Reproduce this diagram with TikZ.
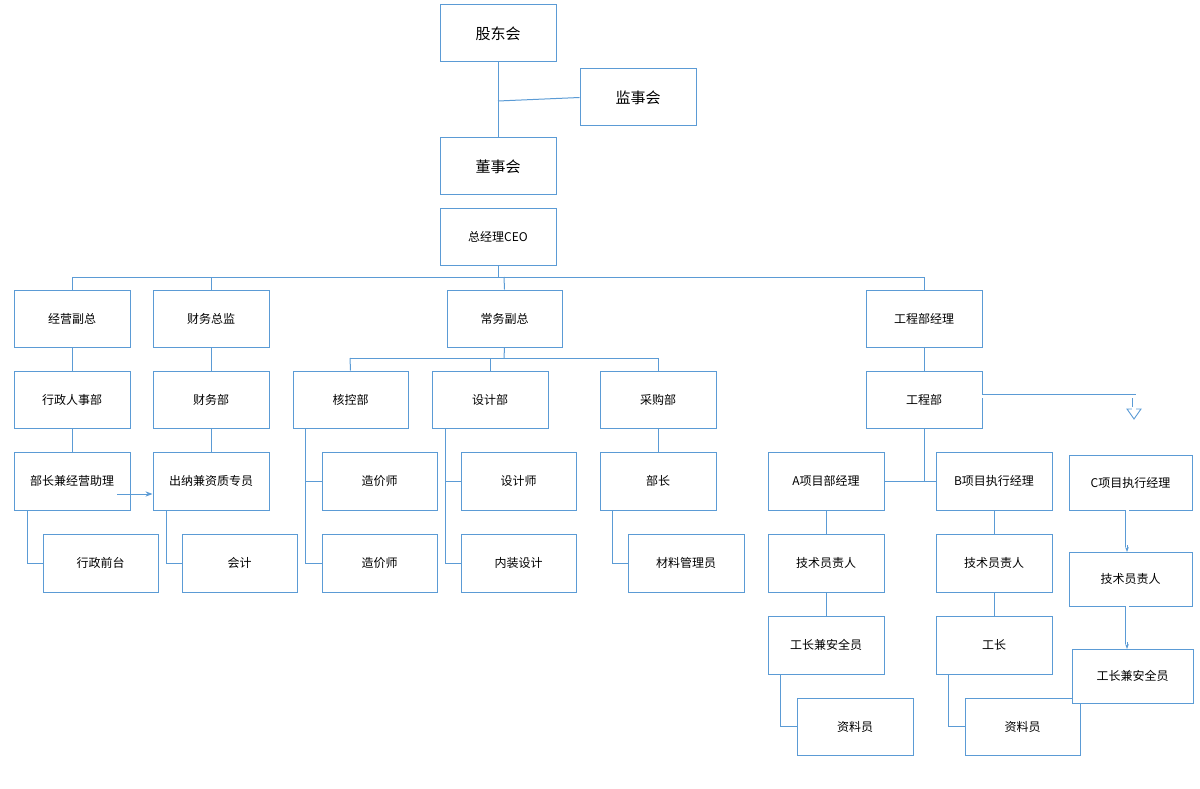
\documentclass[tikz,border=0pt]{standalone}
\usepackage{fontspec}
\setmainfont{Noto Sans CJK SC}
\usetikzlibrary{arrows.meta}
\definecolor{ln}{RGB}{91,155,213}
\begin{document}
\begin{tikzpicture}[x=1pt,y=-1pt,
 bx/.style={draw=ln,line width=1pt,fill=white,inner sep=0pt,font=\fontsize{12}{14}\selectfont},
 big/.style={font=\fontsize{15}{17}\selectfont},
 cn/.style={draw=ln,line width=1pt},
 dbl/.style={draw=ln,double=white,double distance=3pt,line width=0.9pt}]
\useasboundingbox (0,0) rectangle (1200,789);
\newcommand\bx[6][]{\node[bx,#1,minimum width=#4-#2,minimum height=#5-#3] (#6) at ({(#2+#4)/2},{(#3+#5)/2}) {};}
\def\B#1#2#3#4#5#6{\node[bx,minimum width=#4-#2 pt,minimum height=#5-#3 pt] (#1) at ({(#2+#4)/2},{(#3+#5)/2}) {#6};}
\B{gd}{440}{5}{556}{62}{\fontsize{15}{17}\selectfont 股东会}
\B{js}{580}{69}{696}{126}{\fontsize{15}{17}\selectfont 监事会}
\B{ds}{440}{138}{556}{195}{\fontsize{15}{17}\selectfont 董事会}
\B{ceo}{440}{208}{556}{265}{总经理CEO}
\B{jy}{14}{290}{130}{347}{经营副总}
\B{cw}{153}{290}{269}{347}{财务总监}
\B{cwf}{447}{290}{562}{347}{常务副总}
\B{gcj}{866}{290}{982}{347}{工程部经理}
\B{xz}{14}{371}{130}{428}{行政人事部}
\B{cwb}{153}{371}{269}{428}{财务部}
\B{hk}{293}{371}{408}{428}{核控部}
\B{sj}{432}{371}{548}{428}{设计部}
\B{cg}{600}{371}{716}{428}{采购部}
\B{gcb}{866}{371}{982}{428}{工程部}
\B{bz}{14}{452}{130}{510}{部长兼经营助理}
\B{cn1}{153}{452}{269}{510}{出纳兼资质专员}
\B{zj1}{322}{452}{437}{510}{造价师}
\B{sjs}{461}{452}{576}{510}{设计师}
\B{bzc}{600}{452}{716}{510}{部长}
\B{xa}{768}{452}{884}{510}{A项目部经理}
\B{xb}{936}{452}{1052}{510}{B项目执行经理}
\B{xc}{1069}{455}{1192}{510}{C项目执行经理}
\B{qt}{43}{534}{158}{592}{行政前台}
\B{kj}{182}{534}{297}{592}{会计}
\B{zj2}{322}{534}{437}{592}{造价师}
\B{nz}{461}{534}{576}{592}{内装设计}
\B{cl}{628}{534}{744}{592}{材料管理员}
\B{ja}{768}{534}{884}{592}{技术员责人}
\B{jb}{936}{534}{1052}{592}{技术员责人}
\B{jc}{1069}{552}{1192}{606}{技术员责人}
\B{ga}{768}{616}{884}{674}{工长兼安全员}
\B{gb}{936}{616}{1052}{674}{工长}
\B{za}{797}{698}{913}{755}{资料员}
\B{zb}{965}{698}{1080}{755}{资料员}
\B{gc}{1072}{649}{1193}{703}{工长兼安全员}
\begin{scope}[on background layer/.style={}]
\end{scope}
% connectors
\draw[cn] (gd.south) -- (ds.north);
\draw[cn] (498,101) -- (js.west);
\draw[cn] (ceo.south) -- (498,277);
\draw[cn] (72,277) -- (925,277);
\draw[cn] (72,277) -- (jy.north);
\draw[cn] (211,277) -- (cw.north);
\draw[cn] (504,277) -- (cwf.north);
\draw[cn] (924,277) -- (gcj.north);
\draw[cn] (jy) -- (xz); \draw[cn] (xz) -- (bz);
\draw[cn] (cw) -- (cwb); \draw[cn] (cwb) -- (cn1);
\draw[cn] (cwf.south) -- (504,358);
\draw[cn] (350,358) -- (658,358);
\draw[cn] (350,358) -- (hk.north);
\draw[cn] (490,358) -- (sj.north);
\draw[cn] (658,358) -- (cg.north);
\draw[cn] (gcj) -- (gcb);
\draw[cn] (27,510) |- (qt.west);
\draw[cn] (166,510) |- (kj.west);
\draw[cn] (305,428) |- (zj2.west);
\draw[cn] (305,481) -- (zj1.west);
\draw[cn] (445,428) |- (nz.west);
\draw[cn] (445,481) -- (sjs.west);
\draw[cn] (cg) -- (bzc);
\draw[cn] (612,510) |- (cl.west);
\draw[cn] (gcb.south) -- (924,481);
\draw[cn] (xa.east) -- (xb.west);
\draw[cn] (xa) -- (ja); \draw[cn] (ja) -- (ga);
\draw[cn] (xb) -- (jb); \draw[cn] (jb) -- (gb);
\draw[cn] (780,674) |- (za.west);
\draw[cn] (948,674) |- (zb.west);
\node[bx,minimum width=121pt,minimum height=54pt] at (gc) {工长兼安全员};
\draw[cn,-{Stealth[length=7pt]}] (117,494) -- (cn1.west|-0,494);
\draw[dbl] (982,396) -- (1134,396) -- (1134,410);
\draw[ln,line width=0.9pt,fill=white] (1127,409) -- (1141,409) -- (1134,419) -- cycle;
\fill[white] (1132.3,407) rectangle (1135.7,410.5);
\draw[dbl] (1127,510) -- (1127,547);
\draw[ln,line width=0.9pt,-{Stealth[length=5pt]}] (1127,545) -- (1127,552);
\draw[dbl] (1127,606) -- (1127,644);
\draw[ln,line width=0.9pt,-{Stealth[length=5pt]}] (1127,642) -- (1127,649);
\end{tikzpicture}
\end{document}
